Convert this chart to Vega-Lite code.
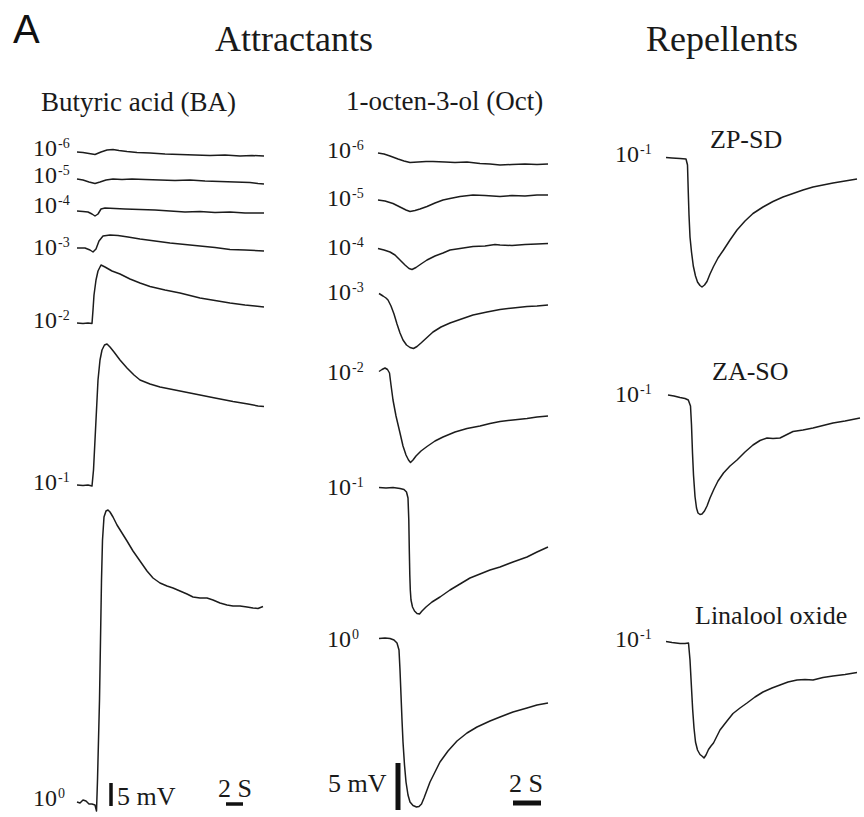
{
  "$schema": "https://vega.github.io/schema/vega-lite/v6.json",
  "width": 864,
  "height": 817,
  "padding": 0,
  "autosize": {"type": "fit", "contains": "padding"},
  "background": "white",
  "config": {"view": {"stroke": null}},
  "datasets": {
    "traces": [
      {"trace":"BA 1e-6","x":77,"y":152},{"trace":"BA 1e-6","x":83,"y":152.5},{"trace":"BA 1e-6","x":89,"y":153.5},{"trace":"BA 1e-6","x":95,"y":154.5},{"trace":"BA 1e-6","x":101,"y":152},{"trace":"BA 1e-6","x":107,"y":150},{"trace":"BA 1e-6","x":113,"y":149.5},{"trace":"BA 1e-6","x":119,"y":150.5},{"trace":"BA 1e-6","x":127,"y":151.5},{"trace":"BA 1e-6","x":137,"y":152.5},{"trace":"BA 1e-6","x":150,"y":153},{"trace":"BA 1e-6","x":165,"y":154},{"trace":"BA 1e-6","x":180,"y":154.5},{"trace":"BA 1e-6","x":195,"y":155},{"trace":"BA 1e-6","x":210,"y":155.5},{"trace":"BA 1e-6","x":225,"y":155},{"trace":"BA 1e-6","x":240,"y":156},{"trace":"BA 1e-6","x":252,"y":155.5},{"trace":"BA 1e-6","x":264,"y":156},
      {"trace":"BA 1e-5","x":77,"y":179},{"trace":"BA 1e-5","x":83,"y":180},{"trace":"BA 1e-5","x":89,"y":182},{"trace":"BA 1e-5","x":95,"y":183.5},{"trace":"BA 1e-5","x":100,"y":182},{"trace":"BA 1e-5","x":106,"y":180},{"trace":"BA 1e-5","x":113,"y":179},{"trace":"BA 1e-5","x":122,"y":179.5},{"trace":"BA 1e-5","x":132,"y":179},{"trace":"BA 1e-5","x":145,"y":179.5},{"trace":"BA 1e-5","x":160,"y":180},{"trace":"BA 1e-5","x":175,"y":180.5},{"trace":"BA 1e-5","x":190,"y":180},{"trace":"BA 1e-5","x":205,"y":181},{"trace":"BA 1e-5","x":220,"y":181.5},{"trace":"BA 1e-5","x":235,"y":182},{"trace":"BA 1e-5","x":250,"y":182.5},{"trace":"BA 1e-5","x":258,"y":183.5},{"trace":"BA 1e-5","x":264,"y":184},
      {"trace":"BA 1e-4","x":77,"y":211},{"trace":"BA 1e-4","x":83,"y":211.5},{"trace":"BA 1e-4","x":88,"y":212},{"trace":"BA 1e-4","x":92,"y":214},{"trace":"BA 1e-4","x":95,"y":216},{"trace":"BA 1e-4","x":98,"y":214},{"trace":"BA 1e-4","x":101,"y":209},{"trace":"BA 1e-4","x":105,"y":208},{"trace":"BA 1e-4","x":115,"y":208.5},{"trace":"BA 1e-4","x":125,"y":209},{"trace":"BA 1e-4","x":140,"y":209.5},{"trace":"BA 1e-4","x":155,"y":210},{"trace":"BA 1e-4","x":170,"y":211},{"trace":"BA 1e-4","x":185,"y":212},{"trace":"BA 1e-4","x":200,"y":211.5},{"trace":"BA 1e-4","x":215,"y":212.5},{"trace":"BA 1e-4","x":230,"y":212},{"trace":"BA 1e-4","x":245,"y":213},{"trace":"BA 1e-4","x":264,"y":213},
      {"trace":"BA 1e-3","x":77,"y":248},{"trace":"BA 1e-3","x":85,"y":248},{"trace":"BA 1e-3","x":90,"y":250},{"trace":"BA 1e-3","x":93,"y":252},{"trace":"BA 1e-3","x":96,"y":249},{"trace":"BA 1e-3","x":99,"y":241},{"trace":"BA 1e-3","x":103,"y":236},{"trace":"BA 1e-3","x":110,"y":235},{"trace":"BA 1e-3","x":118,"y":235.5},{"trace":"BA 1e-3","x":128,"y":237},{"trace":"BA 1e-3","x":140,"y":239},{"trace":"BA 1e-3","x":155,"y":241},{"trace":"BA 1e-3","x":170,"y":243},{"trace":"BA 1e-3","x":185,"y":244.5},{"trace":"BA 1e-3","x":200,"y":246},{"trace":"BA 1e-3","x":215,"y":247.5},{"trace":"BA 1e-3","x":230,"y":249.5},{"trace":"BA 1e-3","x":245,"y":250},{"trace":"BA 1e-3","x":264,"y":251},
      {"trace":"BA 1e-2","x":77,"y":323},{"trace":"BA 1e-2","x":83,"y":323.5},{"trace":"BA 1e-2","x":88,"y":323},{"trace":"BA 1e-2","x":92,"y":323.5},{"trace":"BA 1e-2","x":93,"y":310},{"trace":"BA 1e-2","x":94,"y":295},{"trace":"BA 1e-2","x":96,"y":280},{"trace":"BA 1e-2","x":98,"y":271},{"trace":"BA 1e-2","x":101,"y":265},{"trace":"BA 1e-2","x":105,"y":267},{"trace":"BA 1e-2","x":112,"y":271},{"trace":"BA 1e-2","x":120,"y":274},{"trace":"BA 1e-2","x":130,"y":279},{"trace":"BA 1e-2","x":140,"y":283},{"trace":"BA 1e-2","x":150,"y":286.5},{"trace":"BA 1e-2","x":165,"y":290},{"trace":"BA 1e-2","x":180,"y":293},{"trace":"BA 1e-2","x":200,"y":298},{"trace":"BA 1e-2","x":215,"y":300.5},{"trace":"BA 1e-2","x":230,"y":303},{"trace":"BA 1e-2","x":245,"y":305},{"trace":"BA 1e-2","x":255,"y":306},{"trace":"BA 1e-2","x":264,"y":307},
      {"trace":"BA 1e-1","x":77,"y":485},{"trace":"BA 1e-1","x":83,"y":485.5},{"trace":"BA 1e-1","x":88,"y":485},{"trace":"BA 1e-1","x":92,"y":486},{"trace":"BA 1e-1","x":93.5,"y":470},{"trace":"BA 1e-1","x":95,"y":440},{"trace":"BA 1e-1","x":96.5,"y":410},{"trace":"BA 1e-1","x":98,"y":380},{"trace":"BA 1e-1","x":100,"y":360},{"trace":"BA 1e-1","x":102,"y":350},{"trace":"BA 1e-1","x":104.5,"y":345},{"trace":"BA 1e-1","x":107,"y":344},{"trace":"BA 1e-1","x":110,"y":347},{"trace":"BA 1e-1","x":114,"y":352},{"trace":"BA 1e-1","x":120,"y":360},{"trace":"BA 1e-1","x":127,"y":368},{"trace":"BA 1e-1","x":134,"y":375},{"trace":"BA 1e-1","x":140,"y":380},{"trace":"BA 1e-1","x":150,"y":384},{"trace":"BA 1e-1","x":160,"y":387},{"trace":"BA 1e-1","x":175,"y":390},{"trace":"BA 1e-1","x":190,"y":393},{"trace":"BA 1e-1","x":200,"y":395},{"trace":"BA 1e-1","x":215,"y":398},{"trace":"BA 1e-1","x":233,"y":401.5},{"trace":"BA 1e-1","x":248,"y":404},{"trace":"BA 1e-1","x":258,"y":406},{"trace":"BA 1e-1","x":264,"y":406.5},
      {"trace":"BA 1e0","x":77,"y":802},{"trace":"BA 1e0","x":80,"y":803},{"trace":"BA 1e0","x":83,"y":800},{"trace":"BA 1e0","x":86,"y":801},{"trace":"BA 1e0","x":89,"y":804},{"trace":"BA 1e0","x":92,"y":804},{"trace":"BA 1e0","x":95,"y":805},{"trace":"BA 1e0","x":96.5,"y":811},{"trace":"BA 1e0","x":97.5,"y":780},{"trace":"BA 1e0","x":98.5,"y":740},{"trace":"BA 1e0","x":99.5,"y":700},{"trace":"BA 1e0","x":100.5,"y":640},{"trace":"BA 1e0","x":101.5,"y":580},{"trace":"BA 1e0","x":102.5,"y":540},{"trace":"BA 1e0","x":104,"y":517},{"trace":"BA 1e0","x":106,"y":511},{"trace":"BA 1e0","x":108,"y":510},{"trace":"BA 1e0","x":110,"y":512},{"trace":"BA 1e0","x":113,"y":517},{"trace":"BA 1e0","x":117,"y":525},{"trace":"BA 1e0","x":122,"y":533},{"trace":"BA 1e0","x":127,"y":541},{"trace":"BA 1e0","x":133,"y":551},{"trace":"BA 1e0","x":140,"y":561},{"trace":"BA 1e0","x":147,"y":571},{"trace":"BA 1e0","x":153,"y":578},{"trace":"BA 1e0","x":160,"y":583},{"trace":"BA 1e0","x":167,"y":586},{"trace":"BA 1e0","x":173,"y":588},{"trace":"BA 1e0","x":180,"y":591},{"trace":"BA 1e0","x":187,"y":594},{"trace":"BA 1e0","x":193,"y":597},{"trace":"BA 1e0","x":200,"y":598},{"trace":"BA 1e0","x":207,"y":598},{"trace":"BA 1e0","x":213,"y":600},{"trace":"BA 1e0","x":220,"y":603},{"trace":"BA 1e0","x":227,"y":605},{"trace":"BA 1e0","x":233,"y":606},{"trace":"BA 1e0","x":240,"y":606},{"trace":"BA 1e0","x":247,"y":607},{"trace":"BA 1e0","x":253,"y":608},{"trace":"BA 1e0","x":258,"y":608.5},{"trace":"BA 1e0","x":263,"y":606.5},
      {"trace":"Oct 1e-6","x":378,"y":153},{"trace":"Oct 1e-6","x":384,"y":154},{"trace":"Oct 1e-6","x":390,"y":156},{"trace":"Oct 1e-6","x":394,"y":157.5},{"trace":"Oct 1e-6","x":398,"y":159},{"trace":"Oct 1e-6","x":404,"y":161},{"trace":"Oct 1e-6","x":410,"y":162.5},{"trace":"Oct 1e-6","x":418,"y":162},{"trace":"Oct 1e-6","x":426,"y":161.5},{"trace":"Oct 1e-6","x":433,"y":161.5},{"trace":"Oct 1e-6","x":445,"y":162},{"trace":"Oct 1e-6","x":455,"y":162.5},{"trace":"Oct 1e-6","x":467,"y":162},{"trace":"Oct 1e-6","x":480,"y":163.5},{"trace":"Oct 1e-6","x":490,"y":164},{"trace":"Oct 1e-6","x":500,"y":165},{"trace":"Oct 1e-6","x":512,"y":164.5},{"trace":"Oct 1e-6","x":525,"y":164},{"trace":"Oct 1e-6","x":537,"y":164.5},{"trace":"Oct 1e-6","x":548,"y":164},
      {"trace":"Oct 1e-5","x":378,"y":200},{"trace":"Oct 1e-5","x":385,"y":201},{"trace":"Oct 1e-5","x":393,"y":203.5},{"trace":"Oct 1e-5","x":400,"y":207},{"trace":"Oct 1e-5","x":406,"y":210},{"trace":"Oct 1e-5","x":410,"y":211.5},{"trace":"Oct 1e-5","x":415,"y":210.5},{"trace":"Oct 1e-5","x":420,"y":209},{"trace":"Oct 1e-5","x":427,"y":206.5},{"trace":"Oct 1e-5","x":435,"y":203},{"trace":"Oct 1e-5","x":443,"y":200},{"trace":"Oct 1e-5","x":450,"y":198.5},{"trace":"Oct 1e-5","x":460,"y":196.5},{"trace":"Oct 1e-5","x":473,"y":195},{"trace":"Oct 1e-5","x":485,"y":195.5},{"trace":"Oct 1e-5","x":500,"y":196.5},{"trace":"Oct 1e-5","x":512,"y":195.5},{"trace":"Oct 1e-5","x":525,"y":196},{"trace":"Oct 1e-5","x":537,"y":195},{"trace":"Oct 1e-5","x":548,"y":195},
      {"trace":"Oct 1e-4","x":378,"y":248.5},{"trace":"Oct 1e-4","x":384,"y":250},{"trace":"Oct 1e-4","x":390,"y":252},{"trace":"Oct 1e-4","x":395,"y":255},{"trace":"Oct 1e-4","x":400,"y":260},{"trace":"Oct 1e-4","x":405,"y":265},{"trace":"Oct 1e-4","x":409,"y":268.5},{"trace":"Oct 1e-4","x":412,"y":269.5},{"trace":"Oct 1e-4","x":416,"y":267.5},{"trace":"Oct 1e-4","x":421,"y":264},{"trace":"Oct 1e-4","x":427,"y":260},{"trace":"Oct 1e-4","x":435,"y":256},{"trace":"Oct 1e-4","x":443,"y":253},{"trace":"Oct 1e-4","x":450,"y":250},{"trace":"Oct 1e-4","x":460,"y":248.5},{"trace":"Oct 1e-4","x":473,"y":246.5},{"trace":"Oct 1e-4","x":485,"y":246},{"trace":"Oct 1e-4","x":495,"y":244.5},{"trace":"Oct 1e-4","x":500,"y":245},{"trace":"Oct 1e-4","x":512,"y":245.5},{"trace":"Oct 1e-4","x":525,"y":244.5},{"trace":"Oct 1e-4","x":537,"y":244},{"trace":"Oct 1e-4","x":548,"y":243.5},
      {"trace":"Oct 1e-3","x":379,"y":293.5},{"trace":"Oct 1e-3","x":383,"y":296},{"trace":"Oct 1e-3","x":386,"y":298},{"trace":"Oct 1e-3","x":388,"y":300},{"trace":"Oct 1e-3","x":391,"y":306},{"trace":"Oct 1e-3","x":394,"y":314},{"trace":"Oct 1e-3","x":397,"y":324},{"trace":"Oct 1e-3","x":400,"y":333},{"trace":"Oct 1e-3","x":403,"y":340},{"trace":"Oct 1e-3","x":406.5,"y":345},{"trace":"Oct 1e-3","x":410,"y":347.5},{"trace":"Oct 1e-3","x":413.5,"y":348.5},{"trace":"Oct 1e-3","x":417,"y":346.5},{"trace":"Oct 1e-3","x":421,"y":343},{"trace":"Oct 1e-3","x":427,"y":337.5},{"trace":"Oct 1e-3","x":433,"y":332},{"trace":"Oct 1e-3","x":441,"y":327},{"trace":"Oct 1e-3","x":450,"y":323},{"trace":"Oct 1e-3","x":460,"y":319.5},{"trace":"Oct 1e-3","x":473,"y":315},{"trace":"Oct 1e-3","x":487,"y":312},{"trace":"Oct 1e-3","x":500,"y":309.5},{"trace":"Oct 1e-3","x":513,"y":308},{"trace":"Oct 1e-3","x":527,"y":306.5},{"trace":"Oct 1e-3","x":537,"y":306},{"trace":"Oct 1e-3","x":548,"y":305},
      {"trace":"Oct 1e-2","x":379,"y":371.5},{"trace":"Oct 1e-2","x":382,"y":369.5},{"trace":"Oct 1e-2","x":385,"y":368},{"trace":"Oct 1e-2","x":387.5,"y":369.5},{"trace":"Oct 1e-2","x":389.5,"y":373},{"trace":"Oct 1e-2","x":391,"y":385},{"trace":"Oct 1e-2","x":393,"y":400},{"trace":"Oct 1e-2","x":396,"y":416},{"trace":"Oct 1e-2","x":400,"y":433},{"trace":"Oct 1e-2","x":403,"y":446},{"trace":"Oct 1e-2","x":406,"y":455},{"trace":"Oct 1e-2","x":408.5,"y":460},{"trace":"Oct 1e-2","x":410.5,"y":462.5},{"trace":"Oct 1e-2","x":413,"y":460},{"trace":"Oct 1e-2","x":416,"y":456},{"trace":"Oct 1e-2","x":421,"y":451},{"trace":"Oct 1e-2","x":427,"y":446.5},{"trace":"Oct 1e-2","x":435,"y":441},{"trace":"Oct 1e-2","x":443,"y":437},{"trace":"Oct 1e-2","x":455,"y":432},{"trace":"Oct 1e-2","x":467,"y":428.5},{"trace":"Oct 1e-2","x":480,"y":426},{"trace":"Oct 1e-2","x":490,"y":423.5},{"trace":"Oct 1e-2","x":500,"y":421.5},{"trace":"Oct 1e-2","x":513,"y":420},{"trace":"Oct 1e-2","x":527,"y":418.5},{"trace":"Oct 1e-2","x":537,"y":417},{"trace":"Oct 1e-2","x":548,"y":416},
      {"trace":"Oct 1e-1","x":379,"y":487.5},{"trace":"Oct 1e-1","x":386,"y":488},{"trace":"Oct 1e-1","x":393,"y":487.5},{"trace":"Oct 1e-1","x":400,"y":488.5},{"trace":"Oct 1e-1","x":404,"y":489.5},{"trace":"Oct 1e-1","x":406.5,"y":492},{"trace":"Oct 1e-1","x":408,"y":498},{"trace":"Oct 1e-1","x":408.8,"y":520},{"trace":"Oct 1e-1","x":409.3,"y":550},{"trace":"Oct 1e-1","x":409.8,"y":575},{"trace":"Oct 1e-1","x":410.3,"y":590},{"trace":"Oct 1e-1","x":411,"y":600},{"trace":"Oct 1e-1","x":412.5,"y":607},{"trace":"Oct 1e-1","x":414.5,"y":611},{"trace":"Oct 1e-1","x":417,"y":613.5},{"trace":"Oct 1e-1","x":419.5,"y":614},{"trace":"Oct 1e-1","x":422,"y":611},{"trace":"Oct 1e-1","x":426,"y":607},{"trace":"Oct 1e-1","x":432,"y":602},{"trace":"Oct 1e-1","x":440,"y":597},{"trace":"Oct 1e-1","x":450,"y":590},{"trace":"Oct 1e-1","x":460,"y":584},{"trace":"Oct 1e-1","x":470,"y":578},{"trace":"Oct 1e-1","x":480,"y":574},{"trace":"Oct 1e-1","x":490,"y":570},{"trace":"Oct 1e-1","x":500,"y":567},{"trace":"Oct 1e-1","x":513,"y":562},{"trace":"Oct 1e-1","x":527,"y":557},{"trace":"Oct 1e-1","x":537,"y":552},{"trace":"Oct 1e-1","x":548,"y":547},
      {"trace":"Oct 1e0","x":379,"y":638.5},{"trace":"Oct 1e0","x":385,"y":638},{"trace":"Oct 1e0","x":390,"y":638.5},{"trace":"Oct 1e0","x":394,"y":640},{"trace":"Oct 1e0","x":397,"y":643},{"trace":"Oct 1e0","x":399,"y":650},{"trace":"Oct 1e0","x":400,"y":670},{"trace":"Oct 1e0","x":401,"y":695},{"trace":"Oct 1e0","x":402,"y":720},{"trace":"Oct 1e0","x":403,"y":742},{"trace":"Oct 1e0","x":404.5,"y":765},{"trace":"Oct 1e0","x":406,"y":782},{"trace":"Oct 1e0","x":408,"y":795},{"trace":"Oct 1e0","x":410,"y":802},{"trace":"Oct 1e0","x":413,"y":805.5},{"trace":"Oct 1e0","x":416.5,"y":807},{"trace":"Oct 1e0","x":419,"y":806.5},{"trace":"Oct 1e0","x":421.5,"y":804},{"trace":"Oct 1e0","x":424,"y":798},{"trace":"Oct 1e0","x":427,"y":790},{"trace":"Oct 1e0","x":430,"y":782},{"trace":"Oct 1e0","x":435,"y":772},{"trace":"Oct 1e0","x":440,"y":762},{"trace":"Oct 1e0","x":448,"y":751},{"trace":"Oct 1e0","x":457,"y":741},{"trace":"Oct 1e0","x":467,"y":733},{"trace":"Oct 1e0","x":477,"y":727},{"trace":"Oct 1e0","x":490,"y":721},{"trace":"Oct 1e0","x":500,"y":717},{"trace":"Oct 1e0","x":513,"y":712},{"trace":"Oct 1e0","x":527,"y":708},{"trace":"Oct 1e0","x":537,"y":705},{"trace":"Oct 1e0","x":548,"y":703},
      {"trace":"ZP-SD","x":666,"y":157.5},{"trace":"ZP-SD","x":672,"y":158},{"trace":"ZP-SD","x":680,"y":158.5},{"trace":"ZP-SD","x":686,"y":159},{"trace":"ZP-SD","x":687.5,"y":165},{"trace":"ZP-SD","x":688.3,"y":193},{"trace":"ZP-SD","x":689,"y":215},{"trace":"ZP-SD","x":690,"y":237},{"trace":"ZP-SD","x":691.5,"y":252},{"trace":"ZP-SD","x":693.3,"y":266},{"trace":"ZP-SD","x":695.5,"y":276},{"trace":"ZP-SD","x":697.5,"y":282},{"trace":"ZP-SD","x":700,"y":285.5},{"trace":"ZP-SD","x":702,"y":287},{"trace":"ZP-SD","x":704.5,"y":285},{"trace":"ZP-SD","x":707,"y":281.5},{"trace":"ZP-SD","x":710,"y":274},{"trace":"ZP-SD","x":713.5,"y":266.5},{"trace":"ZP-SD","x":718,"y":258},{"trace":"ZP-SD","x":723.5,"y":250},{"trace":"ZP-SD","x":730,"y":240},{"trace":"ZP-SD","x":737,"y":230},{"trace":"ZP-SD","x":745,"y":221},{"trace":"ZP-SD","x":753,"y":213.5},{"trace":"ZP-SD","x":763,"y":207},{"trace":"ZP-SD","x":773,"y":201.5},{"trace":"ZP-SD","x":783,"y":197},{"trace":"ZP-SD","x":793,"y":193.5},{"trace":"ZP-SD","x":803,"y":190},{"trace":"ZP-SD","x":813,"y":187},{"trace":"ZP-SD","x":823,"y":185},{"trace":"ZP-SD","x":833,"y":183},{"trace":"ZP-SD","x":845,"y":181},{"trace":"ZP-SD","x":857,"y":179},
      {"trace":"ZA-SO","x":668,"y":395},{"trace":"ZA-SO","x":674,"y":396},{"trace":"ZA-SO","x":680,"y":397.5},{"trace":"ZA-SO","x":685,"y":398.5},{"trace":"ZA-SO","x":688.3,"y":400},{"trace":"ZA-SO","x":690.5,"y":406},{"trace":"ZA-SO","x":691.5,"y":425},{"trace":"ZA-SO","x":692.5,"y":453},{"trace":"ZA-SO","x":693.5,"y":475},{"trace":"ZA-SO","x":695,"y":496.5},{"trace":"ZA-SO","x":696.5,"y":508},{"trace":"ZA-SO","x":698,"y":513},{"trace":"ZA-SO","x":700,"y":514.5},{"trace":"ZA-SO","x":702,"y":514},{"trace":"ZA-SO","x":704.5,"y":511},{"trace":"ZA-SO","x":707,"y":506},{"trace":"ZA-SO","x":710,"y":498},{"trace":"ZA-SO","x":714,"y":489},{"trace":"ZA-SO","x":718,"y":481},{"trace":"ZA-SO","x":723.5,"y":473},{"trace":"ZA-SO","x":730,"y":466},{"trace":"ZA-SO","x":737,"y":460},{"trace":"ZA-SO","x":745,"y":452},{"trace":"ZA-SO","x":753,"y":445},{"trace":"ZA-SO","x":760,"y":440.5},{"trace":"ZA-SO","x":767,"y":438},{"trace":"ZA-SO","x":773,"y":438.5},{"trace":"ZA-SO","x":780,"y":438},{"trace":"ZA-SO","x":787,"y":434.5},{"trace":"ZA-SO","x":793,"y":431.5},{"trace":"ZA-SO","x":803,"y":430},{"trace":"ZA-SO","x":813,"y":428},{"trace":"ZA-SO","x":823,"y":425.5},{"trace":"ZA-SO","x":833,"y":423},{"trace":"ZA-SO","x":845,"y":421},{"trace":"ZA-SO","x":860,"y":418},
      {"trace":"Linalool oxide","x":666,"y":641.5},{"trace":"Linalool oxide","x":672,"y":642.5},{"trace":"Linalool oxide","x":680,"y":643.5},{"trace":"Linalool oxide","x":685,"y":643.5},{"trace":"Linalool oxide","x":688.5,"y":643},{"trace":"Linalool oxide","x":690,"y":660},{"trace":"Linalool oxide","x":691.5,"y":688},{"trace":"Linalool oxide","x":692.7,"y":710},{"trace":"Linalool oxide","x":694,"y":728},{"trace":"Linalool oxide","x":695.5,"y":742},{"trace":"Linalool oxide","x":697.5,"y":750},{"trace":"Linalool oxide","x":700,"y":754.5},{"trace":"Linalool oxide","x":702.5,"y":756.5},{"trace":"Linalool oxide","x":704,"y":758},{"trace":"Linalool oxide","x":706,"y":755},{"trace":"Linalool oxide","x":708.5,"y":749.5},{"trace":"Linalool oxide","x":711,"y":746},{"trace":"Linalool oxide","x":713.5,"y":743},{"trace":"Linalool oxide","x":717,"y":736},{"trace":"Linalool oxide","x":720,"y":730},{"trace":"Linalool oxide","x":727,"y":721},{"trace":"Linalool oxide","x":733,"y":713.5},{"trace":"Linalool oxide","x":740,"y":708},{"trace":"Linalool oxide","x":747,"y":703},{"trace":"Linalool oxide","x":755,"y":697},{"trace":"Linalool oxide","x":763,"y":692},{"trace":"Linalool oxide","x":772,"y":688},{"trace":"Linalool oxide","x":780,"y":685},{"trace":"Linalool oxide","x":788,"y":682},{"trace":"Linalool oxide","x":797,"y":680},{"trace":"Linalool oxide","x":805,"y":679.5},{"trace":"Linalool oxide","x":813,"y":680},{"trace":"Linalool oxide","x":823,"y":677.5},{"trace":"Linalool oxide","x":833,"y":676},{"trace":"Linalool oxide","x":845,"y":674.5},{"trace":"Linalool oxide","x":857,"y":672.5}
    ],
    "concs": [
      {"col":"BA","exp":"-6","x":33,"y":156},
      {"col":"BA","exp":"-5","x":33,"y":183},
      {"col":"BA","exp":"-4","x":33,"y":213},
      {"col":"BA","exp":"-3","x":33,"y":255},
      {"col":"BA","exp":"-2","x":33,"y":328},
      {"col":"BA","exp":"-1","x":33,"y":490},
      {"col":"BA","exp":"0","x":33,"y":806},
      {"col":"Oct","exp":"-6","x":327,"y":158},
      {"col":"Oct","exp":"-5","x":327,"y":206},
      {"col":"Oct","exp":"-4","x":327,"y":255},
      {"col":"Oct","exp":"-3","x":327,"y":300},
      {"col":"Oct","exp":"-2","x":327,"y":380},
      {"col":"Oct","exp":"-1","x":327,"y":495},
      {"col":"Oct","exp":"0","x":327,"y":647},
      {"col":"ZP-SD","exp":"-1","x":615,"y":162},
      {"col":"ZA-SO","exp":"-1","x":615,"y":402},
      {"col":"Linalool oxide","exp":"-1","x":615,"y":647}
    ],
    "texts": [
      {"role":"panel","text":"A","x":13,"y":43},
      {"role":"header","text":"Attractants","x":294,"y":51},
      {"role":"header","text":"Repellents","x":722,"y":51},
      {"role":"sub","text":"Butyric acid (BA)","x":41,"y":111},
      {"role":"sub","text":"1-octen-3-ol (Oct)","x":346,"y":110},
      {"role":"small","text":"ZP-SD","x":710,"y":148},
      {"role":"small","text":"ZA-SO","x":712,"y":380},
      {"role":"small","text":"Linalool oxide","x":695,"y":624},
      {"role":"small","text":"5 mV","x":117,"y":805},
      {"role":"small","text":"2 S","x":218,"y":797},
      {"role":"small","text":"5 mV","x":328,"y":792},
      {"role":"small","text":"2 S","x":509,"y":792}
    ],
    "bars": [
      {"panel":"BA","kind":"5 mV","x":111,"x2":111,"y":783,"y2":806},
      {"panel":"BA","kind":"2 S","x":226,"x2":243,"y":804,"y2":804},
      {"panel":"Oct","kind":"5 mV","x":398,"x2":398,"y":763,"y2":810},
      {"panel":"Oct","kind":"2 S","x":513,"x2":541,"y":803,"y2":803}
    ]
  },
  "layer": [
    {
      "data": {"name": "traces"},
      "mark": {"type": "line", "color": "#1c1c1c", "strokeWidth": 1.5, "strokeJoin": "round"},
      "encoding": {
        "x": {"field": "x", "type": "quantitative", "scale": {"domain": [0, 864], "nice": false, "zero": false}, "axis": null},
        "y": {"field": "y", "type": "quantitative", "scale": {"domain": [0, 817], "nice": false, "zero": false, "reverse": true}, "axis": null},
        "detail": {"field": "trace"}
      }
    },
    {
      "data": {"name": "bars"},
      "transform": [{"filter": "datum.panel === 'BA'"}],
      "mark": {"type": "rule", "color": "#111", "strokeWidth": 3.5},
      "encoding": {
        "x": {"field": "x", "type": "quantitative"},
        "x2": {"field": "x2"},
        "y": {"field": "y", "type": "quantitative"},
        "y2": {"field": "y2"}
      }
    },
    {
      "data": {"name": "bars"},
      "transform": [{"filter": "datum.panel === 'Oct'"}],
      "mark": {"type": "rule", "color": "#111", "strokeWidth": 5},
      "encoding": {
        "x": {"field": "x", "type": "quantitative"},
        "x2": {"field": "x2"},
        "y": {"field": "y", "type": "quantitative"},
        "y2": {"field": "y2"}
      }
    },
    {
      "data": {"name": "concs"},
      "mark": {"type": "text", "text": "10", "font": "Liberation Serif", "fontSize": 24, "align": "left", "baseline": "alphabetic", "color": "#1a1a1a"},
      "encoding": {
        "x": {"field": "x", "type": "quantitative"},
        "y": {"field": "y", "type": "quantitative"}
      }
    },
    {
      "data": {"name": "concs"},
      "mark": {"type": "text", "font": "Liberation Serif", "fontSize": 14, "align": "left", "baseline": "alphabetic", "dx": 25, "dy": -8, "color": "#1a1a1a"},
      "encoding": {
        "x": {"field": "x", "type": "quantitative"},
        "y": {"field": "y", "type": "quantitative"},
        "text": {"field": "exp"}
      }
    },
    {
      "data": {"name": "texts"},
      "transform": [{"filter": "datum.role === 'panel'"}],
      "mark": {"type": "text", "font": "Liberation Sans", "fontSize": 40, "align": "left", "baseline": "alphabetic", "color": "#111"},
      "encoding": {
        "x": {"field": "x", "type": "quantitative"},
        "y": {"field": "y", "type": "quantitative"},
        "text": {"field": "text"}
      }
    },
    {
      "data": {"name": "texts"},
      "transform": [{"filter": "datum.role === 'header'"}],
      "mark": {"type": "text", "font": "Liberation Serif", "fontSize": 36, "align": "center", "baseline": "alphabetic", "color": "#1a1a1a"},
      "encoding": {
        "x": {"field": "x", "type": "quantitative"},
        "y": {"field": "y", "type": "quantitative"},
        "text": {"field": "text"}
      }
    },
    {
      "data": {"name": "texts"},
      "transform": [{"filter": "datum.role === 'sub'"}],
      "mark": {"type": "text", "font": "Liberation Serif", "fontSize": 27, "align": "left", "baseline": "alphabetic", "color": "#1a1a1a"},
      "encoding": {
        "x": {"field": "x", "type": "quantitative"},
        "y": {"field": "y", "type": "quantitative"},
        "text": {"field": "text"}
      }
    },
    {
      "data": {"name": "texts"},
      "transform": [{"filter": "datum.role === 'small'"}],
      "mark": {"type": "text", "font": "Liberation Serif", "fontSize": 26, "align": "left", "baseline": "alphabetic", "color": "#1a1a1a"},
      "encoding": {
        "x": {"field": "x", "type": "quantitative"},
        "y": {"field": "y", "type": "quantitative"},
        "text": {"field": "text"}
      }
    }
  ]
}
